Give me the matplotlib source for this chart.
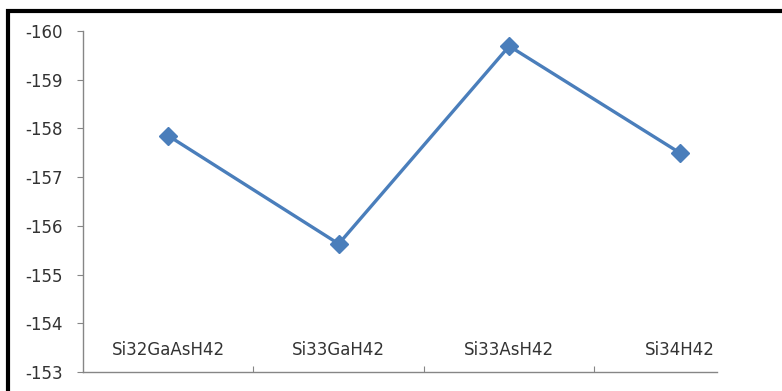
import numpy as np
import matplotlib.pyplot as plt
from matplotlib.lines import Line2D

plt.rcParams['font.family'] = ['DejaVu Sans']

# energies per structure
structures = ['Si32GaAsH42', 'Si33GaH42', 'Si33AsH42', 'Si34H42']
energy = [-157.85, -155.63, -159.69, -157.50]
yticks = [-160, -159, -158, -157, -156, -155, -154, -153]

fig = plt.figure(figsize=(7.82, 3.91), dpi=100)
ax = fig.add_axes([0.1061, 0.0486, 0.8721, 0.8721])

x = np.arange(len(structures))
ax.plot(x, energy, color='#4a7ebb', lw=2.4, marker='D', ms=9.5,
        markeredgecolor='#4a7ebb', markerfacecolor='#4a7ebb', zorder=3)

ax.set_ylim(-153, -160)
ax.set_xlim(-0.5, len(structures) - 0.5)
ax.set_yticks(yticks)
ax.set_yticklabels([str(v) for v in yticks], fontsize=12, color='#333333')

# category dividers and labels just above the axis line
ax.set_xticks(np.arange(len(structures) - 1) + 0.5)
ax.set_xticklabels([])
ax.tick_params(axis='x', direction='in', length=4, color='#868686')
ax.tick_params(axis='y', direction='out', length=4.5, color='#868686', pad=10)
for i, name in enumerate(structures):
    ax.text(i, -153.46, name, ha='center', va='center', fontsize=12,
            color='#333333')

for s in ['top', 'right']:
    ax.spines[s].set_visible(False)
for s in ['left', 'bottom']:
    ax.spines[s].set_color('#868686')
    ax.spines[s].set_linewidth(1)
ax.spines['bottom'].set_bounds(-0.5, 3.22)

# black frame along the left and top edges
fig.add_artist(Line2D([0.0105, 0.0105, 1.05], [-0.05, 0.9715, 0.9715],
                      transform=fig.transFigure, color='black', lw=3,
                      solid_joinstyle='miter'))

fig.savefig('out.png', dpi=100)
